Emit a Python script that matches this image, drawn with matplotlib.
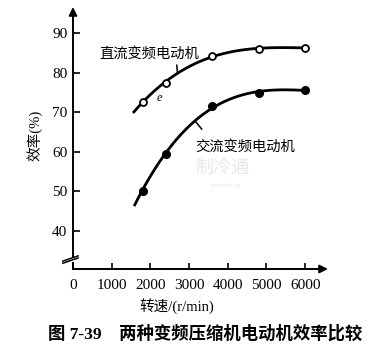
import matplotlib
matplotlib.use("Agg")
import matplotlib.pyplot as plt
import numpy as np

# speed (r/min) and efficiency (%) of the two motor types
speed = [1800, 2400, 3600, 4800, 6000]
dc_eff = [72.7, 77.5, 84.3, 86.0, 86.3]
ac_eff = [50.2, 59.4, 71.6, 74.9, 75.6]
# where each drawn curve begins (left of the first measured point)
dc_start = (1550, 69.8)
ac_start = (1580, 46.6)

xticks = [0, 1000, 2000, 3000, 4000, 5000, 6000]
yticks = [40, 50, 60, 70, 80, 90]

serif = ['Liberation Serif', 'Noto Sans CJK SC']
cjk = ['Noto Sans CJK SC', 'DejaVu Sans']

fig = plt.figure(figsize=(3.87, 3.5), dpi=100)
ax = fig.add_axes([73/387, 81/350, 255/387, 262/350])
ax.set_xlim(0, 6590)
ax.set_ylim(30.4, 96.6)
for s in ax.spines.values():
    s.set_visible(False)


def smooth(start, xs, ys):
    px = np.r_[start[0], xs]
    py = np.r_[start[1], ys]
    c = np.polyfit(px, py, 3)
    xx = np.linspace(px[0], px[-1], 200)
    return xx, np.polyval(c, xx), c


xx, yy, dc_c = smooth(dc_start, speed, dc_eff)
ax.plot(xx, yy, color='black', lw=2.0, solid_capstyle='butt')
ax.plot(speed, dc_eff, 'o', ms=5, mfc='white', mec='black', mew=1.3)
xx, yy, ac_c = smooth(ac_start, speed, ac_eff)
ax.plot(xx, yy, color='black', lw=2.0, solid_capstyle='butt')
ax.plot(speed, ac_eff, 'o', ms=5.5, color='black')

# leader ticks from curves to their labels
ax.annotate('', xy=(2700, np.polyval(dc_c, 2700)), xytext=(-0.5, 6),
            textcoords='offset points',
            arrowprops=dict(arrowstyle='-', lw=1.1, shrinkA=0, shrinkB=0))
ax.annotate('', xy=(3150, np.polyval(ac_c, 3150)), xytext=(5, -6),
            textcoords='offset points',
            arrowprops=dict(arrowstyle='-', lw=1.1, shrinkA=0, shrinkB=0))

ax.text(0.30, 0.823, '直流变频电动机', transform=ax.transAxes, family=cjk,
        fontsize=10.3, ha='center', va='center')
ax.text(0.675, 0.468, '交流变频电动机', transform=ax.transAxes, family=cjk,
        fontsize=10.3, ha='center', va='center')
ax.text(0.34, 0.652, 'e', transform=ax.transAxes, family='Liberation Serif',
        style='italic', fontsize=9, ha='center', va='center')

# faint watermark
ax.text(0.584, 0.385, '制冷通', transform=ax.transAxes, family=cjk,
        fontsize=13, color='#e8e8e8', ha='center', va='center')
ax.text(0.60, 0.32, 'www.zlt.cn', transform=ax.transAxes, family='Liberation Serif',
        fontsize=5, color='#e8e8e8', ha='center', va='center')

# axes drawn by hand: arrows and a break near the bottom of y
kw = dict(color='black', lw=1.4, transform=ax.transAxes, clip_on=False)
ax.plot([0, 0], [0, 0.023], **kw)
ax.plot([0, 0], [0.046, 0.99], **kw)
ax.plot([-0.04, 0.02], [0.022, 0.042], color='black', lw=1.1,
        transform=ax.transAxes, clip_on=False)
ax.plot([-0.04, 0.02], [0.030, 0.050], color='black', lw=1.1,
        transform=ax.transAxes, clip_on=False)
ax.plot([0, 0.98], [0, 0], **kw)
ax.annotate('', xy=(0, 1.0), xytext=(0, 0.93), xycoords='axes fraction',
            arrowprops=dict(arrowstyle='-|>', color='black', lw=1.4,
                            mutation_scale=12, shrinkA=0, shrinkB=0))
ax.annotate('', xy=(1.0, 0), xytext=(0.93, 0), xycoords='axes fraction',
            arrowprops=dict(arrowstyle='-|>', color='black', lw=1.4,
                            mutation_scale=12, shrinkA=0, shrinkB=0))

ax.set_xticks(xticks)
ax.set_yticks(yticks)
ax.set_xticklabels([str(v) for v in xticks], family='Liberation Serif', fontsize=11)
ax.set_yticklabels([str(v) for v in yticks], family='Liberation Serif', fontsize=11)
ax.tick_params(axis='x', direction='in', length=4, width=1.2, pad=7)
ax.tick_params(axis='y', direction='in', length=5, width=1.2, pad=4)

fig.text(35/387, 1 - 135/350, '效率(%)', family=serif, fontsize=10.5,
         rotation=90, ha='center', va='center')
fig.text(177/387, 1 - 306/350, '转速/(r/min)', family=serif, fontsize=10.5,
         ha='center', va='center')
fig.text(205/387, 1 - 334/350, '图 7-39    两种变频压缩机电动机效率比较', family=serif,
         fontsize=12.5, fontweight='bold', ha='center', va='center')

fig.savefig('out.png', dpi=100)
